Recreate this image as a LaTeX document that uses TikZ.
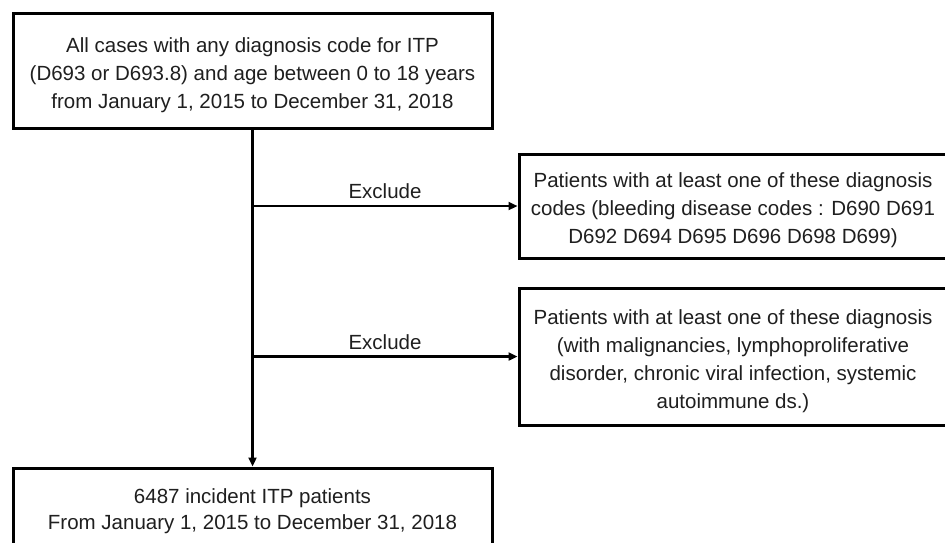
\documentclass[tikz,border=0pt]{standalone}
\usepackage{fontspec}
\setmainfont{Liberation Sans}
\usetikzlibrary{arrows.meta}
\begin{document}
\begin{tikzpicture}[x=1pt,y=1pt,
  box/.style={draw=black, line width=3pt, fill=white, inner sep=0pt},
  txt/.style={align=center, inner sep=0pt, font=\fontsize{20.5}{28}\selectfont, text=black!88},
  conn/.style={line width=2.4pt, -{Triangle[length=9pt,width=8pt]}},
  lbl/.style={font=\fontsize{20.5}{24}\selectfont, text=black!88}]
\useasboundingbox (0,0) rectangle (945,-543);
\clip (0,0) rectangle (945,-543);
\node[box, minimum width=479pt, minimum height=114pt] (top) at (252.5,-71) {};
\node[txt] (toptxt) at ([yshift=-4.5pt]top.center)
  {All cases with any diagnosis code for ITP\\(D693 or D693.8) and age between 0 to 18 years\\from January 1, 2015 to December 31, 2018};
\node[box, minimum width=428pt, minimum height=104pt] (ex1) at (733,-206) {};
\node[txt] (ex1txt) at ([yshift=-4pt]ex1.center)
  {Patients with at least one of these diagnosis\\codes (bleeding disease codes : D690 D691\\D692 D694 D695 D696 D698 D699)};
\node[box, minimum width=428pt, minimum height=137pt] (ex2) at (733,-356.5) {};
\node[txt] (ex2txt) at ([yshift=-4.5pt]ex2.center)
  {Patients with at least one of these diagnosis\\(with malignancies, lymphoproliferative\\disorder, chronic viral infection, systemic\\autoimmune ds.)};
\node[box, minimum width=479pt, minimum height=88pt] (bot) at (252.5,-512) {};
\node[txt, font=\fontsize{20.5}{25.5}\selectfont] (bottxt) at ([yshift=1pt]bot.center)
  {6487 incident ITP patients\\From January 1, 2015 to December 31, 2018};
\coordinate (j1) at (top.south |- ex1.west);
\coordinate (j2) at (top.south |- ex2.west);
\draw[conn] (top.south) -- (bot.north);
\draw[conn] (j1) -- (ex1.west);
\draw[conn] (j2) -- (ex2.west);
\node[lbl] (l1) at (385,-191) {Exclude};
\node[lbl] (l2) at (385,-342) {Exclude};
\end{tikzpicture}
\end{document}
